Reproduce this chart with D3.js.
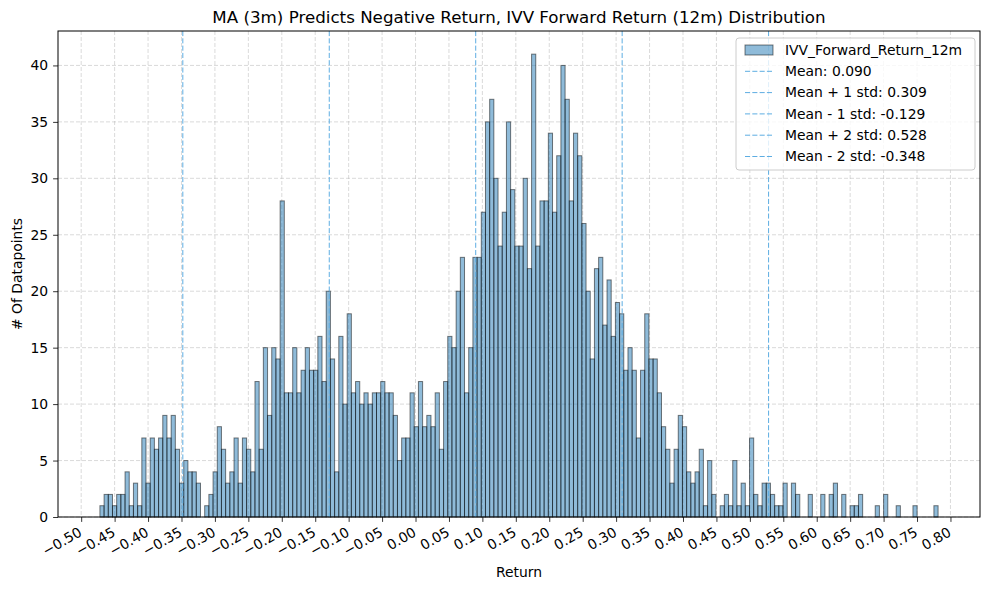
<!DOCTYPE html>
<html><head><meta charset="utf-8">
<script src="https://cdn.jsdelivr.net/npm/d3@7"></script>
<style>body{margin:0;background:#fff} text{font-family:"DejaVu Sans",sans-serif;fill:#000}</style>
</head><body><svg id="c" width="989" height="590"></svg>
<script>
// Histogram counts (200 equal-width bins between binMin and binMax)
const counts = [
 1,2,2,1,2,2,4,1,3,1, 7,3,7,6,7,9,7,9,6,3,
 5,4,4,3,0,1,2,4,8,6, 3,4,7,3,7,6,4,12,6,15,
 9,15,14,28,11,11,15,11,13,15, 13,13,16,12,20,14,4,16,10,18,
 11,12,10,11,10,11,11,12,11,11, 9,5,7,7,11,8,12,8,9,8,
 11,6,12,16,15,20,23,11,15,23, 23,27,35,37,30,24,27,35,29,24,
 24,30,22,41,24,28,28,34,27,32, 40,37,28,34,32,26,20,14,22,23,
 17,21,16,19,18,13,15,13,7,13, 18,14,14,11,8,6,3,6,9,8,
 4,3,4,6,1,5,2,0,1,2, 1,5,1,3,1,7,2,1,3,3,
 2,1,1,3,0,3,2,0,0,2, 0,0,2,0,2,3,0,2,0,1,
 1,2,0,0,0,1,0,2,0,0, 1,0,0,0,1,0,0,0,0,1
];
const binMin = -0.4720, binMax = 0.7815;
const seriesName = "IVV_Forward_Return_12m";
const refLabels = ["Mean: 0.090","Mean + 1 std: 0.309","Mean - 1 std: -0.129","Mean + 2 std: 0.528","Mean - 2 std: -0.348"];
const refValues = [0.090, 0.309, -0.129, 0.528, -0.348];
const xTicks = [-0.50,-0.45,-0.40,-0.35,-0.30,-0.25,-0.20,-0.15,-0.10,-0.05,0.00,0.05,0.10,0.15,0.20,0.25,0.30,0.35,0.40,0.45,0.50,0.55,0.60,0.65,0.70,0.75,0.80];
const yTicks = [0,5,10,15,20,25,30,35,40];
const title = "MA (3m) Predicts Negative Return, IVV Forward Return (12m) Distribution";
const xLabel = "Return", yLabel = "# Of Datapoints";

const svg = d3.select("#c");
const L = 58, R = 980, T = 31, B = 517;
const span = binMax - binMin;
const x = d3.scaleLinear().domain([binMin - 0.05*span, binMax + 0.05*span]).range([L, R]);
const y = d3.scaleLinear().domain([0, d3.max(counts)*1.05]).range([B, T]);
const bw = span / counts.length;
const bins = counts.map((c,i)=>({x0: binMin + i*bw, x1: binMin + (i+1)*bw, c}));

// grid
const g = svg.append("g");
g.selectAll(".gx").data(xTicks).join("line")
  .attr("x1", d=>x(d)).attr("x2", d=>x(d)).attr("y1", T).attr("y2", B)
  .attr("stroke", "#b0b0b0").attr("stroke-opacity", 0.6).attr("stroke-width", 0.8).attr("stroke-dasharray", "4,2");
g.selectAll(".gy").data(yTicks).join("line")
  .attr("x1", L).attr("x2", R).attr("y1", d=>y(d)).attr("y2", d=>y(d))
  .attr("stroke", "#b0b0b0").attr("stroke-opacity", 0.6).attr("stroke-width", 0.8).attr("stroke-dasharray", "4,2");

// bars
svg.append("g").selectAll("rect").data(bins.filter(d=>d.c>0)).join("rect")
  .attr("x", d=>x(d.x0)).attr("width", d=>x(d.x1)-x(d.x0))
  .attr("y", d=>y(d.c)).attr("height", d=>y(0)-y(d.c))
  .attr("fill", "#1f77b4").attr("fill-opacity", 0.5)
  .attr("stroke", "#000").attr("stroke-opacity", 0.5).attr("stroke-width", 1);

// reference lines
const lineColor = "#5dade2";
svg.append("g").selectAll("line").data(refValues).join("line")
  .attr("x1", d=>x(d)).attr("x2", d=>x(d)).attr("y1", T).attr("y2", B)
  .attr("stroke", lineColor).attr("stroke-width", 1).attr("stroke-dasharray", "5.1,2.2");

// axes
const fmt = d3.format(".2f");
const xa = svg.append("g").attr("transform", `translate(0,${B})`)
  .call(d3.axisBottom(x).tickValues(xTicks).tickSize(4.9).tickFormat(fmt));
xa.select(".domain").remove();
xa.selectAll(".tick line").attr("stroke", "#000").attr("stroke-width", 0.8);
xa.selectAll(".tick text").attr("font-size", 13.9).attr("text-anchor", "end")
  .attr("y", 0).attr("dy", 0).attr("dominant-baseline", "hanging")
  .attr("transform", "translate(-4,9) rotate(-30)");

const ya = svg.append("g").attr("transform", `translate(${L},0)`)
  .call(d3.axisLeft(y).tickValues(yTicks).tickSize(4.9).tickPadding(4.9).tickFormat(d3.format("d")));
ya.select(".domain").remove();
ya.selectAll(".tick line").attr("stroke", "#000").attr("stroke-width", 0.8);
ya.selectAll(".tick text").attr("font-size", 13.9);

svg.append("rect").attr("x", L).attr("y", T).attr("width", R-L).attr("height", B-T)
  .attr("fill", "none").attr("stroke", "#000").attr("stroke-width", 1);

// labels
svg.append("text").attr("x", (L+R)/2).attr("y", 23).attr("text-anchor", "middle").attr("font-size", 16.7).text(title);
svg.append("text").attr("x", (L+R)/2).attr("y", 577).attr("text-anchor", "middle").attr("font-size", 13.9).text(xLabel);
svg.append("text").attr("transform", `translate(22,${(T+B)/2}) rotate(-90)`).attr("text-anchor", "middle").attr("font-size", 13.9).text(yLabel);

// legend
const lg = svg.append("g");
const lx = 736, ly = 38, lw = 239, lh = 132;
lg.append("rect").attr("x", lx).attr("y", ly).attr("width", lw).attr("height", lh).attr("rx", 3)
  .attr("fill", "#fff").attr("fill-opacity", 0.8).attr("stroke", "#cccccc").attr("stroke-width", 1);
const rowY = i => 50 + i*21.3;
lg.append("rect").attr("x", 745).attr("y", rowY(0)-5).attr("width", 28).attr("height", 10)
  .attr("fill", "#1f77b4").attr("fill-opacity", 0.5).attr("stroke", "#000").attr("stroke-opacity", 0.5);
lg.append("text").attr("x", 785).attr("y", rowY(0)).attr("dy", "0.35em").attr("font-size", 13.9).text(seriesName);
lg.selectAll(".ll").data(refLabels).join("line")
  .attr("x1", 745).attr("x2", 773).attr("y1", (d,i)=>rowY(i+1)).attr("y2", (d,i)=>rowY(i+1))
  .attr("stroke", lineColor).attr("stroke-width", 1).attr("stroke-dasharray", "5.1,2.2");
lg.selectAll(".lt").data(refLabels).join("text")
  .attr("x", 785).attr("y", (d,i)=>rowY(i+1)).attr("dy", "0.35em").attr("font-size", 13.9).text(d=>d);
</script></body></html>
